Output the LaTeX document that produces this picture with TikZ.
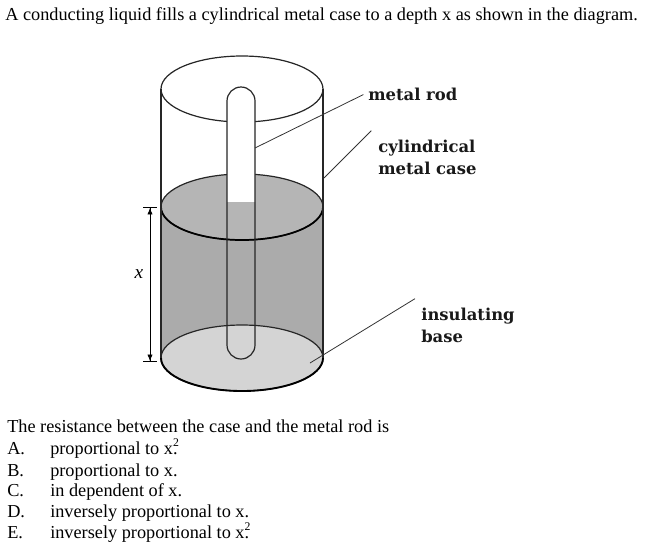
\documentclass[tikz,border=0pt]{standalone}
\usepackage{fontspec}
\setmainfont{Liberation Serif}
\newfontfamily\tagfont{DejaVu Serif}
\usetikzlibrary{arrows.meta}

\newcommand{\sqmark}{\rlap{\smash{\raisebox{0.9ex}{\fontsize{8.8}{8.8}\selectfont 2}}}}

\begin{document}
\begin{tikzpicture}[x=0.75pt,y=0.75pt,yscale=-1,
  outline/.style={draw=black!85,line width=0.9pt},
  leader/.style={draw=black!80,line width=0.6pt},
  tagtext/.style={font=\tagfont\bfseries\fontsize{12.3}{16.5}\selectfont,inner sep=0pt,align=left,text=black!90},
  plaintext/.style={font=\fontsize{13.7}{16}\selectfont,inner sep=0pt}]
\useasboundingbox (0,0) rectangle (645,554);

% Text Nodes
\node (intro) [plaintext,anchor=base west] at (5,20) {A conducting liquid fills a cylindrical metal case to a depth x as shown in the diagram.};

% Liquid [id:liquid]
\fill[black!33] (161,207) rectangle (323,358);
\draw[outline,fill=black!29] (242,207) ellipse (81 and 33);
\draw[line width=1.3pt] (323,207) arc (0:180:81 and 33);

% Insulating base [id:base]
\draw[outline,fill=black!17] (242,358) ellipse (81 and 33);
\draw[line width=1.4pt] (323,358) arc (0:180:81 and 33);

% Case [id:case]
\draw[outline,fill=white] (242,89) ellipse (81 and 33);
\draw[outline] (161,89) -- (161,358) (323,89) -- (323,358);

% Rod [id:rod]
\begin{scope}
\clip (220,80) rectangle (262,201);
\fill[white,rounded corners=10.5pt] (227,87) rectangle (255,359);
\end{scope}
\draw[outline,rounded corners=10.5pt] (227,87) rectangle (255,359);

% Depth x
\coordinate (xtop) at (150,207);
\coordinate (xbot) at (150,362);
\draw[line width=0.6pt,{Bar[width=10pt]Latex[length=5pt,width=4pt]}-{Latex[length=5pt,width=4pt]Bar[width=10pt]}] (xtop) -- (xbot);
\node (xlab) at (139,274) [font=\itshape\fontsize{14.5}{16}\selectfont,inner sep=0pt] {x};

% Labels
\node (rodtag) [tagtext,anchor=base west] at (368,100.7) {metal rod};
\node (casetag) [tagtext,anchor=north west] at (378,140) {cylindrical\\metal case};
\node (basetag) [tagtext,anchor=north west] at (421,308) {insulating\\base};

\coordinate (rodpt) at (255,148);
\coordinate (casept) at (324,178);
\coordinate (basept) at (310,363);
\draw[leader] (rodpt) -- ([xshift=-3.5pt]rodtag.west);
\draw[leader] (casept) -- ([xshift=-5pt,yshift=-7pt]casetag.north west);
\draw[leader] (basept) -- ([xshift=-4.5pt,yshift=-7pt]basetag.north west);

% Question
\node (question) [plaintext,anchor=base west] at (7,432) {The resistance between the case and the metal rod is};

\node (letA) [plaintext,anchor=base west] at (7,454) {A.};
\node (optA) [plaintext,anchor=base west] at (50,454) {proportional to x\sqmark.};

\node (letB) [plaintext,anchor=base west] at (7,476) {B.};
\node (optB) [plaintext,anchor=base west] at (50,476) {proportional to x.};

\node (letC) [plaintext,anchor=base west] at (7,496) {C.};
\node (optC) [plaintext,anchor=base west] at (50,496) {in dependent of x.};

\node (letD) [plaintext,anchor=base west] at (7,517) {D.};
\node (optD) [plaintext,anchor=base west] at (50,517) {inversely proportional to x.};

\node (letE) [plaintext,anchor=base west] at (7,538) {E.};
\node (optE) [plaintext,anchor=base west] at (50,538) {inversely proportional to x\sqmark.};

\end{tikzpicture}
\end{document}
